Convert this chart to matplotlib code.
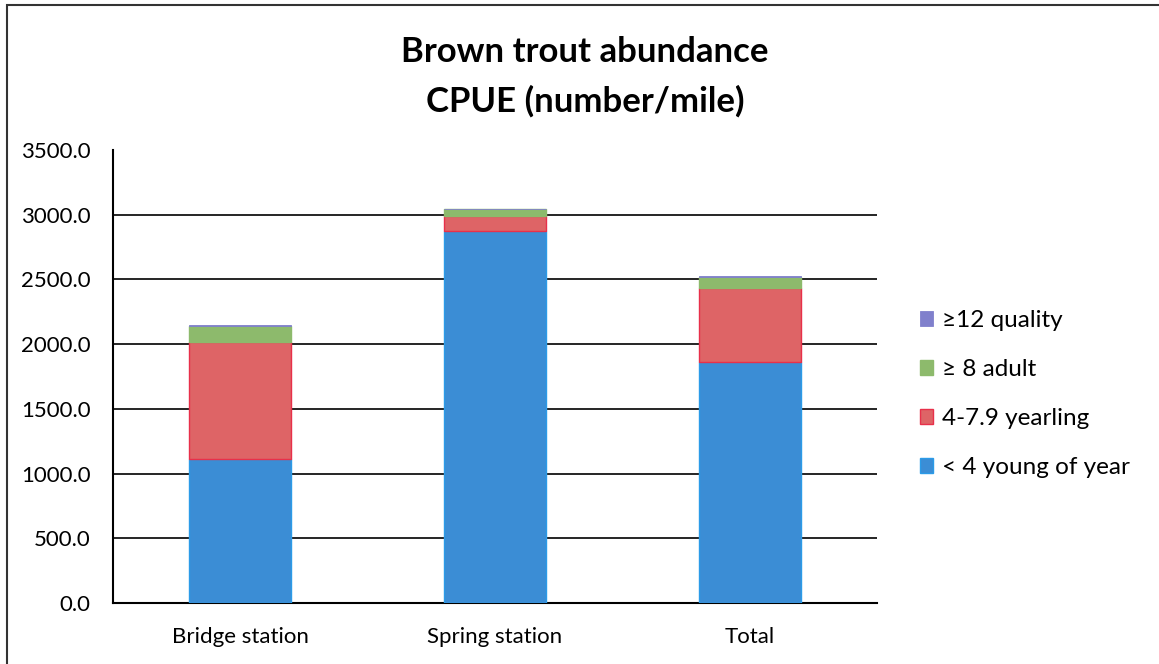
import matplotlib.pyplot as plt
from matplotlib.patches import Rectangle

plt.rcParams['font.family'] = ['Lato', 'DejaVu Sans']

stations = ["Bridge station", "Spring station", "Total"]
young = [1113, 2875, 1862]
yearling = [904, 116, 572]
adult = [124, 54, 85]
quality = [5, 3, 4]
yticks = [0, 500, 1000, 1500, 2000, 2500, 3000, 3500]

fig = plt.figure(figsize=(11.59, 6.64), dpi=100)
ax = fig.add_axes([113 / 1159, 1 - 603 / 664, (877 - 113) / 1159, (603 - 150) / 664])

x = range(len(stations))
w = 0.4
b1 = [young[i] for i in x]
b2 = [young[i] + yearling[i] for i in x]
b3 = [b2[i] + adult[i] for i in x]

ax.bar(x, young, w, color="#3b8dd5", edgecolor="#2b9be8", lw=1, label="< 4 young of year", zorder=3)
ax.bar(x, yearling, w, bottom=b1, color="#de6466", edgecolor="#e8304a", lw=1, label="4-7.9 yearling", zorder=3)
ax.bar(x, adult, w, bottom=b2, color="#8dba6c", edgecolor="#8dba6c", lw=1, label="\u2265 8 adult", zorder=3)
ax.bar(x, quality, w, bottom=b3, color="#8080cc", edgecolor="#8080cc", lw=0.6, label="\u226512 quality", zorder=3)

ax.set_xlim(-0.5, 2.5)
ax.set_ylim(0, 3500)
ax.set_yticks(yticks)
ax.set_yticklabels(["%.1f" % v for v in yticks], fontsize=16)
ax.set_xticks(list(x))
ax.set_xticklabels(stations, fontsize=16)
ax.tick_params(axis="y", length=0, pad=16)
ax.tick_params(axis="x", length=0, pad=17)
for v in yticks[1:-1]:
    ax.axhline(v, color="black", lw=1.2, zorder=1)
for s in ["top", "right"]:
    ax.spines[s].set_visible(False)
ax.spines["left"].set_linewidth(1.5)
ax.spines["bottom"].set_linewidth(1.5)

handles, labels = ax.get_legend_handles_labels()
fig.legend(handles[::-1], labels[::-1], loc="center left", bbox_to_anchor=(898 / 1159, 1 - 394 / 664),
           frameon=False, fontsize=17.5, handlelength=0.55, handleheight=0.55, handletextpad=0.35,
           labelspacing=1.15)

fig.text(585 / 1159, 1 - 52 / 664, "Brown trout abundance", ha="center", va="center",
         fontsize=25, fontweight="bold")
fig.text(585 / 1159, 1 - 101 / 664, "CPUE (number/mile)", ha="center", va="center",
         fontsize=25, fontweight="bold")

fig.patches.append(Rectangle((7 / 1159, -0.01), 1.2, 1 - 5 / 664 + 0.01, transform=fig.transFigure,
                             fill=False, edgecolor="#333333", lw=1.5))

fig.savefig("out.png", dpi=100)
